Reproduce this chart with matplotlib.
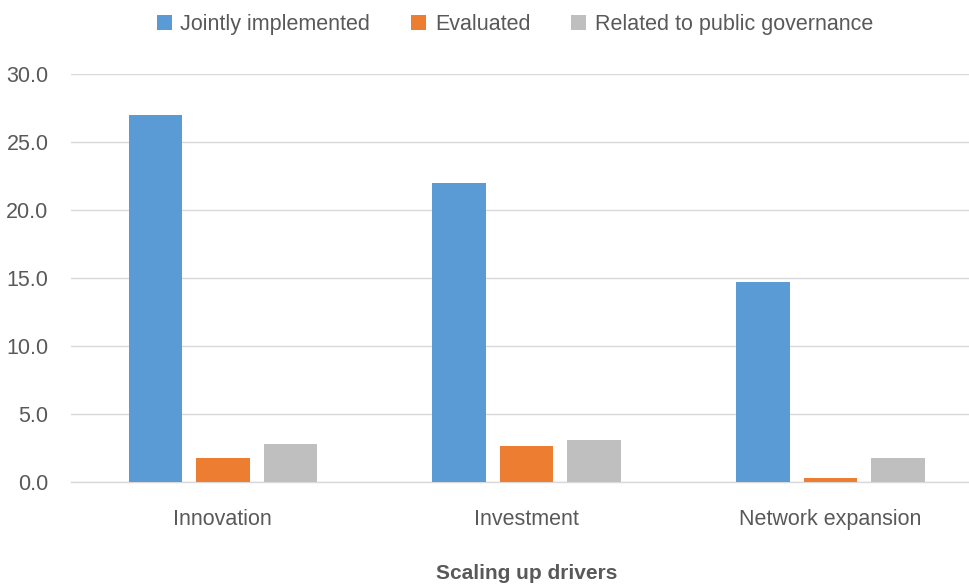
import numpy as np
import matplotlib
matplotlib.use("Agg")
import matplotlib.pyplot as plt

plt.rcParams['font.family'] = ['Liberation Sans Narrow', 'Liberation Sans', 'DejaVu Sans']

categories = ["Innovation", "Investment", "Network expansion"]
series_names = ["Jointly implemented", "Evaluated", "Related to public governance"]
jointly = [27.0, 22.0, 14.7]
evaluated = [1.8, 2.7, 0.3]
governance = [2.8, 3.1, 1.8]
yticks = [0, 5, 10, 15, 20, 25, 30]

colors = ["#5B9BD5", "#ED7D31", "#BFBFBF"]
text_color = "#595959"

fig = plt.figure(figsize=(9.7, 5.85), dpi=100)
# plot area runs a little past the right edge of the figure
ax = fig.add_axes([0.073, 0.1756, 0.940, 0.698])

x = np.arange(len(categories))
width = 0.176
step = 0.222
for i, (vals, name) in enumerate(zip([jointly, evaluated, governance], series_names)):
    ax.bar(x + (i - 1) * step, vals, width, color=colors[i], label=name, zorder=3)

ax.set_xlim(-0.5, len(categories) - 0.5)
ax.set_ylim(0, 30)
ax.set_yticks(yticks)
ax.set_yticklabels([f"{v:.1f}" for v in yticks])
ax.set_xticks(x)
ax.set_xticklabels(categories)

ax.grid(axis="y", color="#D9D9D9", linewidth=1, zorder=0)
for side in ["top", "right", "left"]:
    ax.spines[side].set_visible(False)
ax.spines["bottom"].set_color("#D9D9D9")
ax.spines["bottom"].set_linewidth(1)
ax.tick_params(axis="both", length=0, labelsize=15.5, colors=text_color)
ax.tick_params(axis="y", pad=16)
ax.tick_params(axis="x", pad=19)

ax.set_xlabel("Scaling up drivers", fontsize=15, fontweight="bold", color=text_color, labelpad=25)

ax.legend(loc="upper center", bbox_to_anchor=(0.487, 1.195), ncol=3, frameon=False,
          fontsize=15.5, labelcolor=text_color, handlelength=0.7, handleheight=0.7,
          handletextpad=0.4, columnspacing=1.9)

fig.savefig("out.png", dpi=100)
